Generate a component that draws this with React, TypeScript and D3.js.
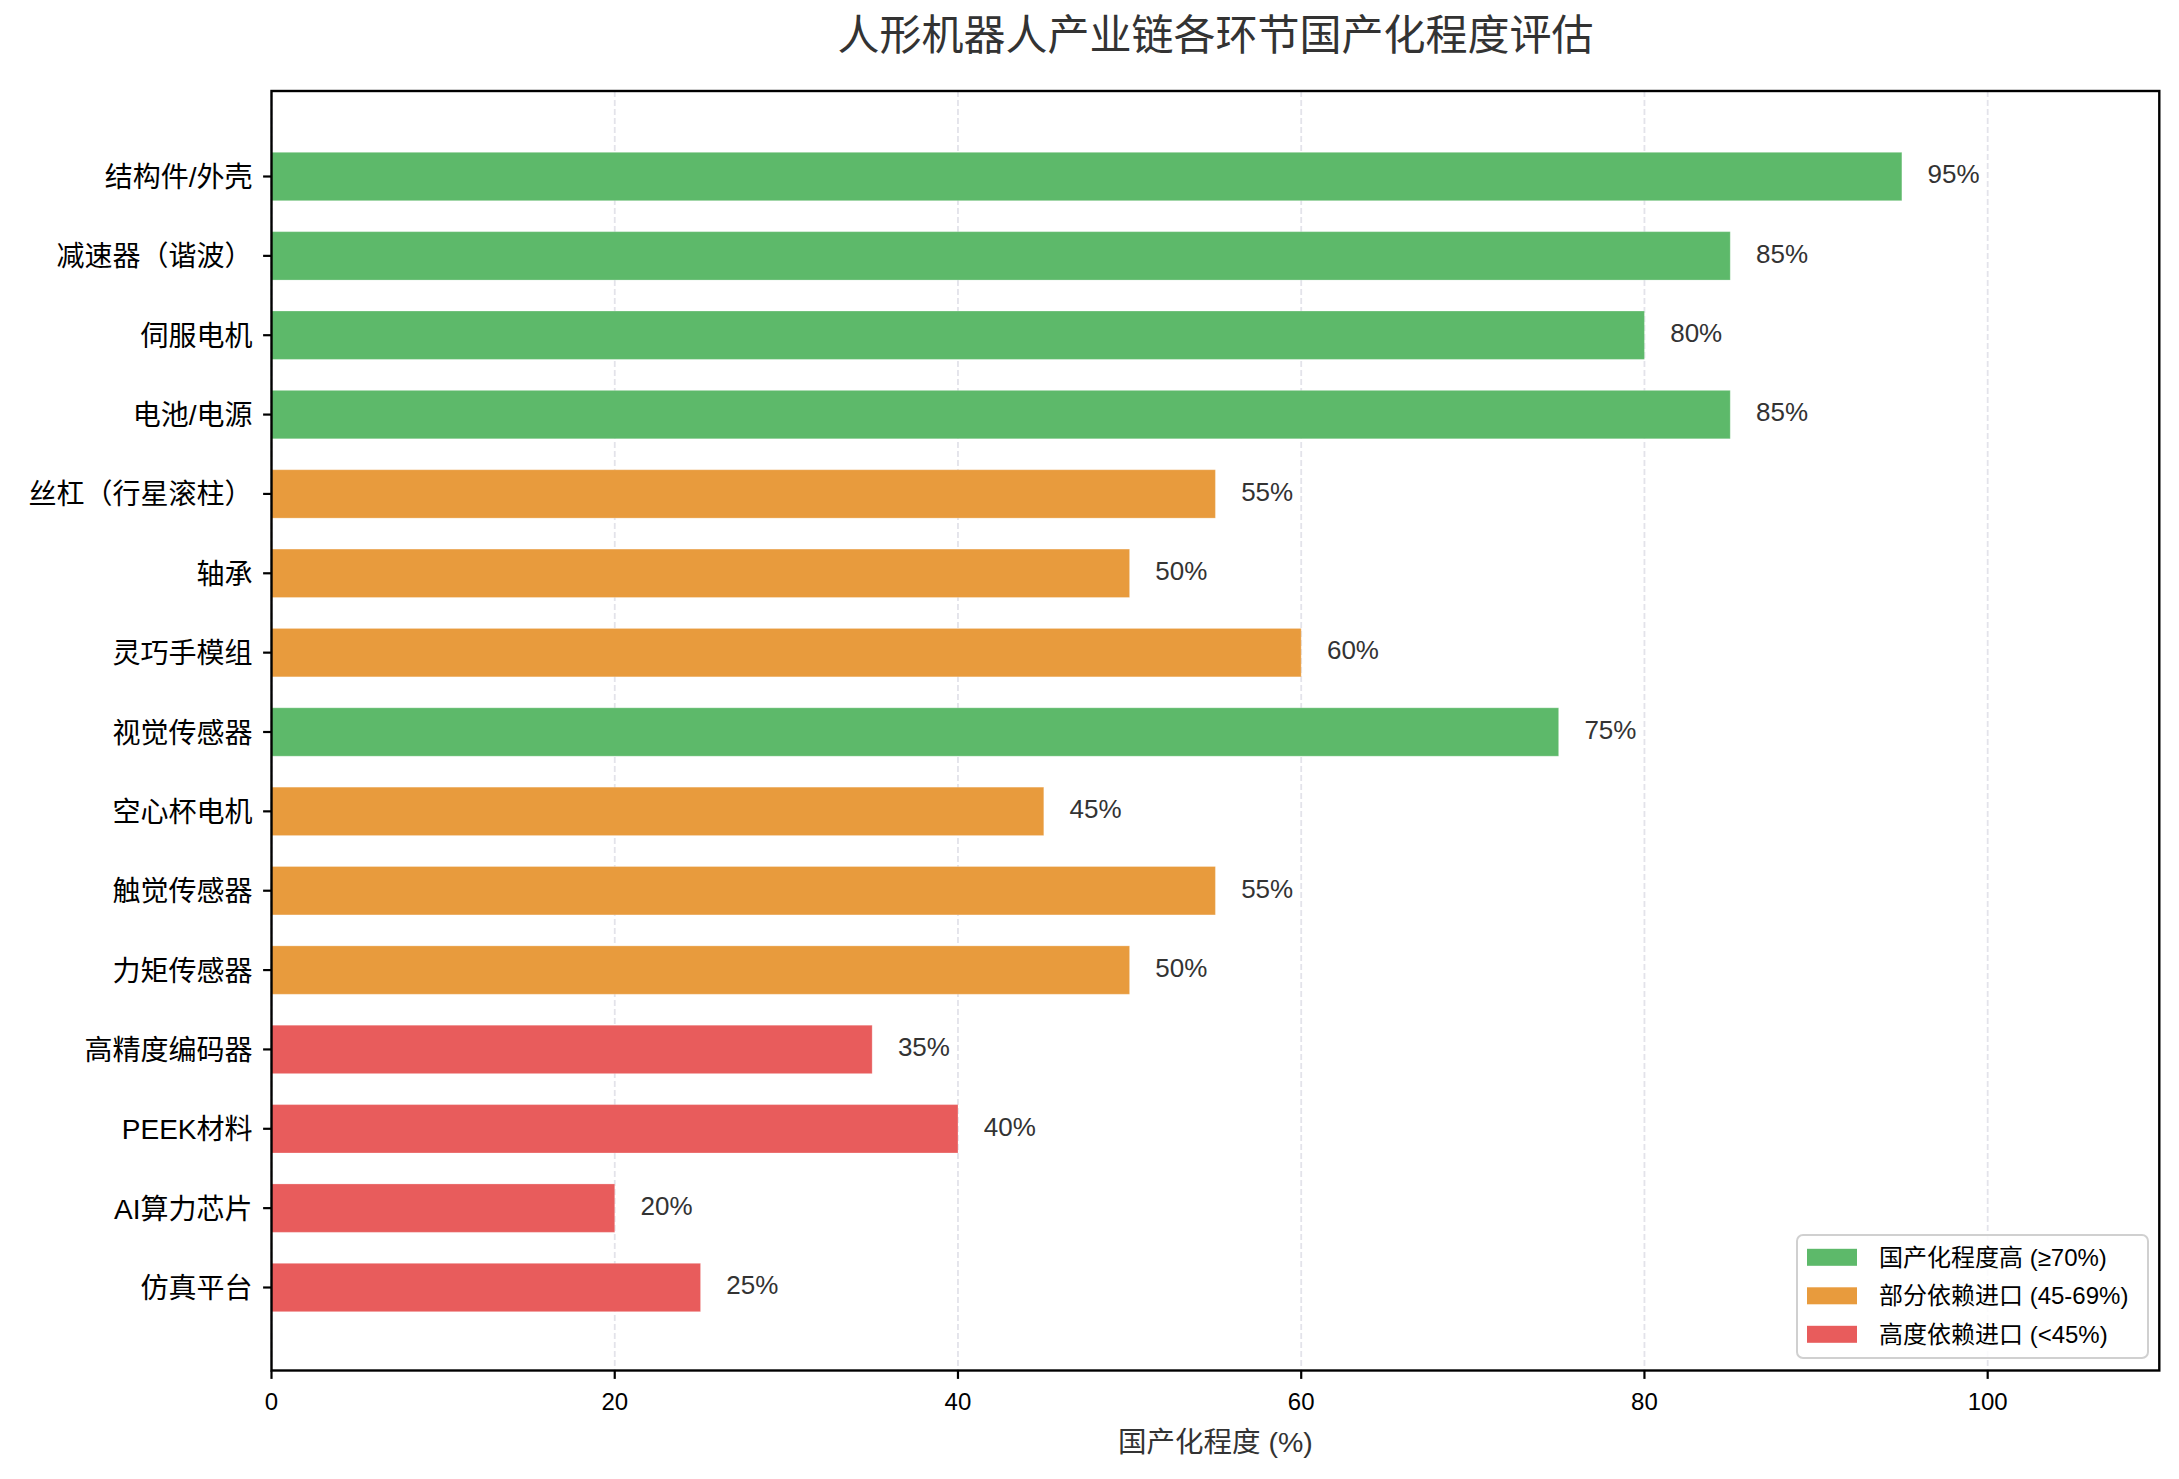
import React from "react";
import * as d3 from "d3";

const categories = [
  "结构件/外壳",
  "减速器（谐波）",
  "伺服电机",
  "电池/电源",
  "丝杠（行星滚柱）",
  "轴承",
  "灵巧手模组",
  "视觉传感器",
  "空心杯电机",
  "触觉传感器",
  "力矩传感器",
  "高精度编码器",
  "PEEK材料",
  "AI算力芯片",
  "仿真平台",
];
const values = [95, 85, 80, 85, 55, 50, 60, 75, 45, 55, 50, 35, 40, 20, 25];
const levelKeys = ["high", "mid", "low"];
const levelLabels = ["国产化程度高 (≥70%)", "部分依赖进口 (45-69%)", "高度依赖进口 (<45%)"];
const levelColors = ["#5DB96A", "#E89B3D", "#E85C5C"];
const xTicks = [0, 20, 40, 60, 80, 100];
const title = "人形机器人产业链各环节国产化程度评估";
const xLabel = "国产化程度 (%)";

const W = 2179;
const H = 1479;
const left = 271.5;
const right = 2159.3;
const top = 91;
const bottom = 1370.5;
const FONT = "'Liberation Sans', Arial, 'Noto Sans CJK SC', sans-serif";

function levelOf(v: number) {
  return v >= 70 ? "high" : v >= 45 ? "mid" : "low";
}

export default function App() {
  const x = d3.scaleLinear().domain([0, 110]).range([left, right]);
  const y = d3.scaleLinear().domain([0, categories.length - 1]).range([176.5, 1287.5]);
  const step = y(1) - y(0);
  const barH = step * 0.61;
  const color = d3.scaleOrdinal<string, string>().domain(levelKeys).range(levelColors);

  return (
    <svg
      width={W}
      height={H}
      style={{ position: "absolute", left: 0, top: 0, background: "#fff" }}
      fontFamily={FONT}
    >
      <rect x={0} y={0} width={W} height={H} fill="#fff" />
      {/* grid */}
      {xTicks.map((t) => (
        <line
          key={"g" + t}
          x1={x(t)}
          x2={x(t)}
          y1={top}
          y2={bottom}
          stroke="#e3e3ea"
          strokeWidth={1.8}
          strokeDasharray="6,3"
        />
      ))}
      {/* bars */}
      {categories.map((c, i) => (
        <rect
          key={c}
          x={x(0)}
          y={y(i) - barH / 2}
          width={x(values[i]) - x(0)}
          height={barH}
          fill={color(levelOf(values[i]))}
          stroke="#ffffff"
          strokeOpacity={0.25}
          strokeWidth={1}
        />
      ))}
      {/* value labels */}
      {categories.map((c, i) => (
        <text
          key={"v" + c}
          x={x(values[i] + 1.5)}
          y={y(i) + 6.8}
          fontSize={26}
          fill="#333333"
        >
          {values[i]}%
        </text>
      ))}
      {/* frame */}
      <rect
        x={left}
        y={top}
        width={right - left}
        height={bottom - top}
        fill="none"
        stroke="#000"
        strokeWidth={2.4}
      />
      {/* x ticks */}
      {xTicks.map((t) => (
        <g key={"xt" + t}>
          <line x1={x(t)} x2={x(t)} y1={bottom} y2={bottom + 8.4} stroke="#000" strokeWidth={2.2} />
          <text x={x(t)} y={1410} fontSize={24} textAnchor="middle" fill="#000">
            {t}
          </text>
        </g>
      ))}
      {/* y ticks */}
      {categories.map((c, i) => (
        <g key={"yt" + c}>
          <line x1={left - 8.4} x2={left} y1={y(i)} y2={y(i)} stroke="#000" strokeWidth={2.2} />
          <text
            x={left - 19}
            y={y(i) + 1}
            fontSize={28}
            textAnchor="end"
            dominantBaseline="central"
            fill="#000"
          >
            {c}
          </text>
        </g>
      ))}
      {/* title */}
      <text x={(left + right) / 2} y={50} fontSize={42} textAnchor="middle" fill="#333333">
        {title}
      </text>
      {/* x label */}
      <text x={(left + right) / 2} y={1452} fontSize={28.5} textAnchor="middle" fill="#333333">
        {xLabel}
      </text>
      {/* legend */}
      <g>
        <rect
          x={1797}
          y={1235}
          width={351}
          height={123}
          rx={6}
          fill="#fff"
          fillOpacity={0.85}
          stroke="#d0d0d0"
          strokeWidth={2}
        />
        {levelLabels.map((l, k) => {
          const cy = 1257.3 + k * 38.5;
          return (
            <g key={l}>
              <rect x={1807} y={cy - 8.5} width={50} height={17} fill={levelColors[k]} />
              <text x={1879} y={cy} fontSize={24} dominantBaseline="central" fill="#000">
                {l}
              </text>
            </g>
          );
        })}
      </g>
    </svg>
  );
}
